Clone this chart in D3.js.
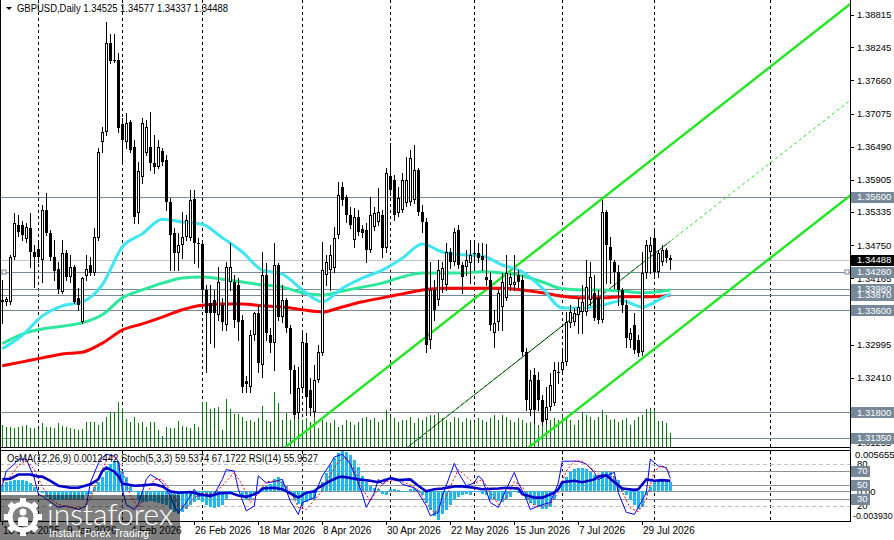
<!DOCTYPE html>
<html lang="en">
<meta charset="utf-8">
<style>
  body{margin:0;background:#fff;}
  svg{display:block;font-family:"Liberation Sans",Arial,sans-serif;}
</style>
<body>
<svg width="894" height="540"></svg>
<script src="https://d3js.org/d3.v7.min.js"></script>
<script>
// GBPUSD daily bars, index 0 = 18 Dec 2025
let openP = [
  1.3375,1.3375,1.3375,1.3454,1.3511,1.3511,1.3486,1.3505,1.3463,1.3468,
  1.3449,1.3537,1.3496,1.3454,1.3433,1.3392,1.3461,1.3419,1.3436,1.3382,
  1.3339,1.3420,1.3440,1.3426,1.3488,1.3657,1.3675,1.3832,1.3802,1.3802,
  1.3689,1.3657,1.3692,1.3648,1.3532,1.3595,1.3638,1.3648,1.3620,1.3613,
  1.3641,1.3625,1.3551,1.3496,1.3461,1.3475,1.3489,1.3488,1.3556,1.3479,
  1.3477,1.3396,1.3373,1.3378,1.3352,1.3369,1.3334,1.3410,1.3410,1.3405,
  1.3343,1.3235,1.3224,1.3316,1.3355,1.3263,1.3422,1.3316,1.3302,1.3440,
  1.3348,1.3378,1.3329,1.3254,1.3178,1.3223,1.3302,1.3219,1.3180,1.3237,
  1.3284,1.3422,1.3431,1.3435,1.3493,1.3578,1.3560,1.3528,1.3484,1.3525,
  1.3503,1.3502,1.3466,1.3507,1.3516,1.3528,1.3470,1.3597,1.3590,1.3532,
  1.3537,1.3549,1.3551,1.3555,1.3608,1.3533,1.3516,1.3307,1.3396,1.3378,
  1.3413,1.3405,1.3463,1.3445,1.3502,1.3440,1.3436,1.3443,1.3461,1.3461,
  1.3456,1.3419,1.3413,1.3320,1.3339,1.3366,1.3382,1.3405,1.3405,1.3422,
  1.3413,1.3286,1.3184,1.3246,1.3237,1.3201,1.3166,1.3189,1.3196,1.3251,
  1.3254,1.3268,1.3337,1.3339,1.3352,1.3357,1.3357,1.3378,1.3390,1.3382,
  1.3343,1.3533,1.3472,1.3445,1.3427,1.3396,1.3369,1.3307,1.3334,1.3307,
  1.3286,1.3426,1.3463,1.3488,1.3427,1.3445,1.3466,1.34525]
let highP = [
  1.3413,1.3383,1.3458,1.3532,1.3528,1.3518,1.3514,1.3532,1.3475,1.3484,
  1.3546,1.3567,1.3502,1.3484,1.3445,1.3484,1.3466,1.3458,1.3440,1.3399,
  1.3419,1.3458,1.3454,1.3505,1.3647,1.3684,1.3869,1.3848,1.3848,1.3814,
  1.3700,1.3708,1.3696,1.3661,1.3622,1.3700,1.3696,1.3710,1.3670,1.3661,
  1.3647,1.3634,1.3558,1.3505,1.3496,1.3533,1.3528,1.3572,1.3572,1.3488,
  1.3484,1.3405,1.3405,1.3396,1.3436,1.3382,1.3445,1.3479,1.3422,1.3417,
  1.3352,1.3244,1.3325,1.3357,1.3369,1.3463,1.3443,1.3329,1.3479,1.3443,
  1.3405,1.3382,1.3334,1.3263,1.3260,1.3320,1.3320,1.3240,1.3263,1.3299,
  1.3480,1.3458,1.3475,1.3507,1.3587,1.3587,1.3564,1.3542,1.3541,1.3537,
  1.3511,1.3514,1.3560,1.3542,1.3576,1.3537,1.3611,1.3655,1.3599,1.3578,
  1.3602,1.3631,1.3643,1.3652,1.3611,1.3546,1.3523,1.3445,1.3413,1.3449,
  1.3445,1.3479,1.3470,1.3505,1.3511,1.3445,1.3466,1.3484,1.3479,1.3479,
  1.3479,1.3477,1.3427,1.3360,1.3396,1.3426,1.3458,1.3426,1.3458,1.3431,
  1.3422,1.3293,1.3254,1.3258,1.3251,1.3210,1.3224,1.3249,1.3268,1.3268,
  1.3293,1.3357,1.3369,1.3364,1.3382,1.3405,1.3449,1.3445,1.3422,1.3396,
  1.3555,1.3537,1.3489,1.3449,1.3440,1.3399,1.3378,1.3329,1.3355,1.3316,
  1.3463,1.3484,1.3489,1.3505,1.3466,1.3475,1.3470,1.34577]
let lowP = [
  1.3337,1.3369,1.3371,1.3450,1.3491,1.3484,1.3480,1.3436,1.3401,1.3445,
  1.3410,1.3493,1.3449,1.3413,1.3390,1.3390,1.3413,1.3410,1.3373,1.3360,
  1.3337,1.3413,1.3422,1.3422,1.3484,1.3639,1.3670,1.3797,1.3798,1.3675,
  1.3620,1.3647,1.3639,1.3514,1.3514,1.3585,1.3634,1.3608,1.3602,1.3611,
  1.3617,1.3537,1.3431,1.3431,1.3431,1.3452,1.3484,1.3484,1.3443,1.3436,
  1.3378,1.3251,1.3302,1.3295,1.3343,1.3325,1.3325,1.3396,1.3330,1.3307,
  1.3216,1.3216,1.3216,1.3307,1.3251,1.3242,1.3307,1.3286,1.3254,1.3343,
  1.3339,1.3321,1.3214,1.3170,1.3170,1.3216,1.3175,1.3175,1.3173,1.3233,
  1.3281,1.3405,1.3396,1.3427,1.3488,1.3546,1.3516,1.3505,1.3472,1.3493,
  1.3489,1.3445,1.3463,1.3502,1.3511,1.3454,1.3463,1.3564,1.3519,1.3526,
  1.3533,1.3544,1.3546,1.3549,1.3528,1.3498,1.3286,1.3293,1.3343,1.3369,
  1.3392,1.3396,1.3435,1.3440,1.3435,1.3390,1.3422,1.3408,1.3431,1.3445,
  1.3431,1.3405,1.3325,1.3295,1.3325,1.3325,1.3378,1.3396,1.3396,1.3401,
  1.3281,1.3184,1.3175,1.3161,1.3184,1.3157,1.3161,1.3184,1.3193,1.3231,
  1.3249,1.3263,1.3330,1.3334,1.3320,1.3320,1.3352,1.3369,1.3343,1.3337,
  1.3340,1.3408,1.3408,1.3399,1.3369,1.3357,1.3295,1.3295,1.3284,1.3279,
  1.3281,1.3417,1.3426,1.3422,1.3419,1.3440,1.3445,1.34337]
let closeP = [
  1.3378,1.3380,1.3454,1.3514,1.3498,1.3493,1.3507,1.3463,1.3454,1.3454,
  1.3537,1.3496,1.3454,1.3429,1.3397,1.3461,1.3419,1.3436,1.3375,1.3369,
  1.3417,1.3433,1.3426,1.3489,1.3639,1.3675,1.3832,1.3800,1.3800,1.3682,
  1.3661,1.3691,1.3643,1.3525,1.3606,1.3691,1.3684,1.3620,1.3613,1.3648,
  1.3622,1.3551,1.3493,1.3461,1.3475,1.3489,1.3519,1.3555,1.3479,1.3477,
  1.3396,1.3355,1.3355,1.3355,1.3410,1.3339,1.3436,1.3436,1.3343,1.3339,
  1.3224,1.3230,1.3316,1.3355,1.3267,1.3422,1.3320,1.3302,1.3440,1.3348,
  1.3378,1.3329,1.3254,1.3175,1.3223,1.3304,1.3207,1.3187,1.3237,1.3286,
  1.3431,1.3445,1.3458,1.3488,1.3564,1.3555,1.3528,1.3511,1.3525,1.3498,
  1.3496,1.3466,1.3528,1.3532,1.3533,1.3470,1.3602,1.3572,1.3528,1.3558,
  1.3590,1.3590,1.3629,1.3608,1.3533,1.3516,1.3299,1.3396,1.3360,1.3431,
  1.3435,1.3463,1.3445,1.3498,1.3440,1.3419,1.3449,1.3458,1.3459,1.3452,
  1.3449,1.3413,1.3334,1.3337,1.3390,1.3410,1.3426,1.3419,1.3410,1.3410,
  1.3286,1.3201,1.3237,1.3184,1.3201,1.3162,1.3189,1.3228,1.3254,1.3249,
  1.3268,1.3339,1.3357,1.3355,1.3366,1.3375,1.3401,1.3419,1.3346,1.3343,
  1.3533,1.3475,1.3449,1.3427,1.3396,1.3369,1.3311,1.3320,1.3290,1.3284,
  1.3426,1.3475,1.3475,1.3427,1.3461,1.3466,1.3452,1.34488]
// tick volume (hundreds)
let volume = [
  88,80,80,76,80,84,88,76,76,72, 96,80,80,76,96,84,80,76,72,68,
  72,100,100,100,88,100,120,140,140,180, 156,112,100,120,96,100,80,100,100,68,
  44,80,76,76,104,84,80,76,92,80, 180,180,152,156,160,68,192,152,132,132,
  120,104,108,100,116,164,108,100,220,176, 108,136,108,120,116,108,116,100,128,76,
  108,100,96,108,80,88,108,100,88,100, 116,120,108,116,100,108,148,120,116,100,
  108,108,120,96,116,108,120,128,128,136, 116,108,100,120,116,100,116,108,100,116,
  108,100,116,128,108,128,120,108,100,116, 108,96,100,108,88,108,96,108,116,108,
  128,120,108,88,108,140,128,120,108,120, 148,128,108,112,100,108,116,88,108,120,
  128,152,156,148,104,104,96,56]

// moving averages sampled by bar
let maBars = [0,5,10,15,20,25,30,35,40,45,50,55,60,65,70,75,80,85,90,95,100,105,110,115,120,125,130,135,140,145,150,155,160,165,167]
let maFast = [1.3292,1.3316,1.3350,1.3368,1.3375,1.3405,1.3472,1.3495,1.3521,1.3516,1.3512,1.3488,1.3463,1.3431,1.3424,1.3396,1.3375,1.3399,1.3417,1.3431,1.3452,1.3477,1.3463,1.3458,1.3456,1.3440,1.3428,1.3399,1.3364,1.3364,1.3369,1.3377,1.3366,1.3382,1.3389]
let maMid = [1.3301,1.3318,1.3327,1.3332,1.3338,1.3352,1.3382,1.3396,1.3408,1.3417,1.3419,1.3415,1.3410,1.3405,1.3401,1.3391,1.3387,1.3394,1.3401,1.3408,1.3419,1.3426,1.3426,1.3426,1.3428,1.3426,1.3421,1.3410,1.3398,1.3396,1.3396,1.3394,1.3391,1.3394,1.3396]
let maSlow = [1.3262,1.3269,1.3276,1.3283,1.3286,1.3302,1.3325,1.3336,1.3348,1.3361,1.3369,1.3371,1.3371,1.3368,1.3366,1.3361,1.3357,1.3366,1.3375,1.3382,1.3389,1.3396,1.3399,1.3399,1.3399,1.3399,1.3396,1.3391,1.3385,1.3382,1.3382,1.3384,1.3384,1.3385,1.3387]

// channel: [bar, price]
let chanUpper = [[70, 1.3114], [212, 1.3901]]
let chanLower = [[130, 1.3109], [212, 1.3563]]
let chanMid = [[100, 1.3111], [167, 1.3482], [212, 1.3731]]

let levels = [1.35600, 1.34280, 1.33980, 1.33870, 1.33600, 1.31800, 1.31350]
let bidPrice = 1.34488
let priceTicks = [1.38815, 1.38245, 1.37660, 1.37075, 1.36490, 1.35905, 1.35335, 1.34750, 1.34165, 1.32995, 1.32410, 1.31255]

let sepBars = [9, 30, 50, 75, 97, 118, 140, 163, 192]
let dateBars = [0, 16, 32, 48, 64, 80, 96, 112, 128, 144, 160]
let dateLabels = ['18 Dec 2025', '9 Jan 2026', '4 Feb 2026', '26 Feb 2026', '18 Mar 2026', '8 Apr 2026', '30 Apr 2026', '22 May 2026', '15 Jun 2026', '7 Jul 2026', '29 Jul 2026']

// OsMA(12,26,9)
let osma = [
  0.00078,0.00123,0.00147,0.00155,0.00155,0.00155,0.00147,0.00114,0.00055,-0.00014,
  -0.00027,-0.00082,-0.00105,-0.00127,-0.00127,-0.00119,-0.00105,-0.00114,-0.00105,-0.00114,
  -0.00105,-0.00059,-0.00037,0.00055,0.00123,0.00192,0.00284,0.00374,0.00421,0.00397,
  0.00284,0.00192,0.00100,-0.00014,-0.00127,-0.00151,-0.00151,-0.00141,-0.00151,-0.00160,
  -0.00174,-0.00196,-0.00242,-0.00288,-0.00311,-0.00288,-0.00242,-0.00196,-0.00151,-0.00127,
  -0.00151,-0.00196,-0.00219,-0.00233,-0.00219,-0.00196,-0.00105,-0.00037,0.00010,-0.00014,
  -0.00082,-0.00127,-0.00105,-0.00037,0.00010,0.00041,0.00078,0.00100,0.00169,0.00192,
  0.00147,0.00078,-0.00037,-0.00105,-0.00174,-0.00196,-0.00151,-0.00127,-0.00105,-0.00014,
  0.00123,0.00247,0.00356,0.00452,0.00521,0.005655,0.00534,0.00493,0.00425,0.00329,
  0.00206,0.00123,0.00069,0.00041,0.00027,-0.00041,-0.00055,0.00027,0.00027,0.00014,
  0.00003,-0.00014,0.00027,0.00041,0.00014,-0.00055,-0.00164,-0.00260,-0.00345,-0.00393,
  -0.00315,-0.00260,-0.00192,-0.00123,-0.00082,-0.00055,-0.00041,-0.00055,-0.00014,-0.00014,
  -0.00041,-0.00055,-0.00110,-0.00110,-0.00137,-0.00151,-0.00110,-0.00082,-0.00014,-0.00027,
  -0.00055,-0.00110,-0.00164,-0.00192,-0.00219,-0.00247,-0.00247,-0.00219,-0.00123,-0.00014,
  0.00123,0.00192,0.00260,0.00301,0.00315,0.00315,0.00301,0.00260,0.00219,0.00164,
  0.00260,0.00274,0.00260,0.00192,0.00151,0.00055,-0.00055,-0.00123,-0.00192,-0.00247,
  -0.00219,-0.00055,0.00055,0.00123,0.00151,0.00151,0.00151,0.00124]

// Stoch(5,3,3) main / signal, RSI(14) sampled by bar
let stochKBars = [0,1,3,4,6,8,9,10,14,16,19,21,22,24,25,26,28,29,30,31,33,34,36,37,39,40,42,43,44,46,48,49,53,55,56,58,59,61,63,64,66,68,70,72,74,75,78,79,80,82,83,85,87,89,90,91,93,94,95,97,99,100,103,104,106,107,109,110,112,113,114,116,118,119,120,122,124,126,128,129,131,132,134,135,137,139,140,142,144,146,148,149,151,153,154,156,158,159,161,162,163,164,166,167]
let stochK = [49,70,80,87,87,60,37,34,18,20,15,20,53,81,89,94,91,84,44,22,15,22,58,65,58,53,34,20,10,25,44,34,37,58,72,70,44,13,20,63,53,55,58,27,8,25,32,49,63,80,90,94,80,53,37,18,39,58,51,61,58,51,46,39,20,6,11,34,65,81,68,49,53,63,58,25,18,44,68,53,30,15,20,22,25,53,84,84,84,80,68,58,63,68,39,11,8,18,39,87,82,77,75,59.54]
let stochDBars = [0,2,4,6,8,10,12,14,17,20,22,24,26,28,30,32,34,36,38,40,42,44,46,48,50,53,56,58,60,62,64,66,69,72,74,76,78,80,82,84,86,88,90,92,94,96,99,102,104,106,108,110,112,114,116,118,120,122,124,126,128,130,132,134,137,139,141,143,145,147,149,151,153,155,157,159,161,163,165,167]
let stochD = [55,62,78,84,72,48,30,22,18,17,30,60,85,91,70,35,18,35,58,58,42,22,17,32,38,37,55,68,50,25,38,55,56,42,18,15,28,42,65,83,90,72,45,27,45,55,57,50,43,25,10,20,47,72,62,52,58,40,22,32,55,48,25,18,22,40,70,84,84,75,66,62,62,40,17,12,30,70,78,67.17]
let rsiBars = [0,2,4,7,9,10,12,14,17,19,22,24,25,26,28,29,30,33,35,38,40,42,44,47,49,52,54,57,59,61,64,65,68,70,73,74,76,78,79,82,84,85,89,92,94,97,99,102,104,106,108,110,113,115,118,120,124,126,129,130,133,135,138,139,140,143,145,148,149,151,153,155,158,159,161,163,165,167]
let rsi = [58,59,65,65,62,62,56,49,46,46,51,58,70,75,69,63,52,49,49.5,51,48,41,39,40,37,34,38,39,35,33,39,45,46,44,35,32,39,41,46,56,61,62,58,56,54,59.5,57,58,49,41,44,45,48,48,46,44,45,46,45,37,32,32,39,44,54,56,54,58,62,64,54,45,43,44,58,56,57,55.95]

let svg = d3.select('svg')
let plotR = 850

let x = d3.scaleLinear().domain([0, 212]).range([2.3, 850.3])
let y = d3.scaleLinear().domain([1.31204, 1.39080]).range([446, 0])
let yVol = d3.scaleLinear().domain([0, 1800]).range([447, 0])
let yOs = d3.scaleLinear().domain([-0.00393, 0.005655]).range([520, 450])
let yPct = d3.scaleLinear().domain([0, 100]).range([520, 450])
let px = i => Math.round(x(i))
let fmt = d3.format('.5f')

let defs = svg.append('defs')
defs.append('clipPath').attr('id', 'clipMain').append('rect').attr('x', 1).attr('y', 0).attr('width', plotR - 1).attr('height', 447)
defs.append('clipPath').attr('id', 'clipSub').append('rect').attr('x', 1).attr('y', 451).attr('width', plotR - 1).attr('height', 70)

let gMain = svg.append('g').attr('clip-path', 'url(#clipMain)')
let gSub = svg.append('g').attr('clip-path', 'url(#clipSub)')

// period separators
gMain.append('g').selectAll('line').data(sepBars).enter().append('line')
  .attr('x1', d => px(d) + 0.5).attr('x2', d => px(d) + 0.5)
  .attr('y1', 0).attr('y2', 447)
  .attr('stroke', '#000').attr('stroke-dasharray', '3,3')
gSub.append('g').selectAll('line').data(sepBars).enter().append('line')
  .attr('x1', d => px(d) + 0.5).attr('x2', d => px(d) + 0.5)
  .attr('y1', 451).attr('y2', 521)
  .attr('stroke', '#000').attr('stroke-dasharray', '3,3')

// horizontal levels
gMain.append('line')
  .attr('x1', 0).attr('x2', plotR)
  .attr('y1', Math.round(y(bidPrice)) + 0.5).attr('y2', Math.round(y(bidPrice)) + 0.5)
  .attr('stroke', '#c0c0c0')
gMain.append('g').selectAll('line').data(levels).enter().append('line')
  .attr('x1', 0).attr('x2', plotR)
  .attr('y1', d => Math.round(y(d)) + 0.5).attr('y2', d => Math.round(y(d)) + 0.5)
  .attr('stroke', '#778899')
gMain.append('g').selectAll('rect').data([2, 845]).enter().append('rect')
  .attr('x', d => d).attr('y', Math.round(y(levels[1])) - 2)
  .attr('width', 4).attr('height', 4)
  .attr('fill', '#fff').attr('stroke', '#778899')

// volumes
gMain.append('g').attr('shape-rendering', 'crispEdges')
  .selectAll('line').data(volume).enter().append('line')
  .attr('x1', (d, i) => px(i) + 0.5).attr('x2', (d, i) => px(i) + 0.5)
  .attr('y1', yVol(0)).attr('y2', d => yVol(d))
  .attr('stroke', '#008000')

// channel
let segLine = d3.line().x(d => x(d[0])).y(d => y(d[1]))
gMain.append('path').attr('d', segLine(chanUpper)).attr('fill', 'none').attr('stroke', '#1ee61e').attr('stroke-width', 2.4)
gMain.append('path').attr('d', segLine(chanLower)).attr('fill', 'none').attr('stroke', '#1ee61e').attr('stroke-width', 2.4)
gMain.append('path').attr('d', segLine(chanMid.slice(0, 2))).attr('fill', 'none').attr('stroke', '#000').attr('stroke-width', 1)
gMain.append('path').attr('d', segLine(chanMid)).attr('fill', 'none').attr('stroke', '#1ee61e').attr('stroke-width', 1).attr('stroke-dasharray', '3,3')

// moving averages
let maLine = vals => d3.line()
  .x((d, i) => x(maBars[i]))
  .y(d => y(d))
  .curve(d3.curveMonotoneX)(vals)
gMain.append('path').attr('d', maLine(maSlow)).attr('fill', 'none').attr('stroke', '#ff0000').attr('stroke-width', 3)
gMain.append('path').attr('d', maLine(maMid)).attr('fill', 'none').attr('stroke', '#2de89c').attr('stroke-width', 3)
gMain.append('path').attr('d', maLine(maFast)).attr('fill', 'none').attr('stroke', '#3ee6f2').attr('stroke-width', 3)

// candles
let candle = gMain.append('g').attr('shape-rendering', 'crispEdges')
  .selectAll('g').data(d3.range(closeP.length)).enter().append('g')
candle.append('line')
  .attr('x1', i => px(i) + 0.5).attr('x2', i => px(i) + 0.5)
  .attr('y1', i => Math.round(y(highP[i]))).attr('y2', i => Math.round(y(lowP[i])) + 1)
  .attr('stroke', '#000')
candle.append('rect')
  .each(function (i) {
    let t = Math.round(y(Math.max(openP[i], closeP[i])))
    let b = Math.round(y(Math.min(openP[i], closeP[i])))
    let bull = closeP[i] > openP[i] && b - t > 1
    let r = d3.select(this)
    if (bull) {
      r.attr('x', px(i) - 0.5).attr('y', t + 0.5).attr('width', 2).attr('height', b - t - 1)
        .attr('fill', '#fff').attr('stroke', '#000')
    } else {
      r.attr('x', px(i) - 1).attr('y', t).attr('width', 3).attr('height', Math.max(b - t, 1))
        .attr('fill', '#000')
    }
  })

// header
svg.append('path').attr('d', 'M6,7L12,7L9,10Z').attr('fill', '#000')
svg.append('text').attr('x', 17).attr('y', 12)
  .attr('font-size', 10).attr('textLength', 211).attr('lengthAdjust', 'spacingAndGlyphs')
  .text('GBPUSD,Daily  1.34525 1.34577 1.34337 1.34488')

// indicator window
gSub.append('g').selectAll('line').data([80, 20]).enter().append('line')
  .attr('x1', 0).attr('x2', plotR)
  .attr('y1', d => Math.round(yPct(d)) + 0.5).attr('y2', d => Math.round(yPct(d)) + 0.5)
  .attr('stroke', '#c0c0c0').attr('stroke-dasharray', '4,3')
gSub.append('g').selectAll('line').data([70, 50, 30]).enter().append('line')
  .attr('x1', 0).attr('x2', plotR)
  .attr('y1', d => Math.round(yPct(d)) + 0.5).attr('y2', d => Math.round(yPct(d)) + 0.5)
  .attr('stroke', '#8a939c')
gSub.append('line')
  .attr('x1', 0).attr('x2', plotR)
  .attr('y1', Math.round(yOs(0)) + 0.5).attr('y2', Math.round(yOs(0)) + 0.5)
  .attr('stroke', '#8a939c')

gSub.append('g').attr('shape-rendering', 'crispEdges')
  .selectAll('rect').data(osma).enter().append('rect')
  .attr('x', (d, i) => px(i) - 1).attr('width', 3)
  .attr('y', d => Math.round(Math.min(yOs(d), yOs(0))))
  .attr('height', d => Math.max(1, Math.round(Math.abs(yOs(d) - yOs(0)))))
  .attr('fill', '#1fb9ef')

let pctLine = bars => d3.line().x((d, i) => x(bars[i])).y(d => yPct(d))
gSub.append('path').attr('d', pctLine(stochKBars)(stochK)).attr('fill', 'none').attr('stroke', '#0000ff').attr('stroke-width', 1)
gSub.append('path').attr('d', pctLine(stochDBars)(stochD)).attr('fill', 'none').attr('stroke', '#ff0000').attr('stroke-width', 1).attr('stroke-dasharray', '2,2')
gSub.append('path').attr('d', pctLine(rsiBars)(rsi)).attr('fill', 'none').attr('stroke', '#0000cd').attr('stroke-width', 2.6)

svg.append('text').attr('x', 7).attr('y', 462)
  .attr('font-size', 10).attr('textLength', 311).attr('lengthAdjust', 'spacingAndGlyphs')
  .text('OsMA(12,26,9) 0.0012442  Stoch(5,3,3) 59.5374 67.1722  RSI(14) 55.9527')

// frame
let frame = svg.append('g').attr('stroke', '#000').attr('shape-rendering', 'crispEdges')
frame.append('line').attr('x1', 0.5).attr('x2', 0.5).attr('y1', 0).attr('y2', 521)
frame.append('line').attr('x1', plotR + 0.5).attr('x2', plotR + 0.5).attr('y1', 0).attr('y2', 522)
frame.append('line').attr('x1', 0).attr('x2', plotR).attr('y1', 447.5).attr('y2', 447.5)
frame.append('line').attr('x1', 0).attr('x2', plotR).attr('y1', 450.5).attr('y2', 450.5)
frame.append('line').attr('x1', 0).attr('x2', plotR + 1).attr('y1', 521.5).attr('y2', 521.5)

// price axis
let axisG = svg.append('g')
axisG.selectAll('line').data(priceTicks).enter().append('line')
  .attr('x1', plotR).attr('x2', plotR + 4)
  .attr('y1', d => Math.round(y(d)) + 0.5).attr('y2', d => Math.round(y(d)) + 0.5)
  .attr('stroke', '#000')
axisG.selectAll('text').data(priceTicks).enter().append('text')
  .attr('x', 857).attr('y', d => y(d)).attr('dy', '0.35em')
  .attr('font-size', 9.5)
  .text(d => fmt(d))

let boxes = svg.append('g')
let boxData = levels.map(d => ({ v: d, bg: '#778899' })).concat([{ v: bidPrice, bg: '#000' }])
boxes.selectAll('rect').data(boxData).enter().append('rect')
  .attr('x', plotR + 1).attr('y', d => Math.round(y(d.v)) - 5)
  .attr('width', 44).attr('height', 11)
  .attr('fill', d => d.bg)
boxes.selectAll('text').data(boxData).enter().append('text')
  .attr('x', 857).attr('y', d => y(d.v)).attr('dy', '0.35em')
  .attr('font-size', 9.5).attr('fill', '#fff')
  .text(d => fmt(d.v))

// indicator axis
let subAxis = svg.append('g').attr('font-size', 9.5)
subAxis.append('text').attr('x', 855).attr('y', 451).attr('dominant-baseline', 'hanging').text('0.005655')
subAxis.append('text').attr('x', 853).attr('y', 519).attr('font-size', 8.8).text('-0.003930')
subAxis.append('text').attr('x', 857).attr('y', yOs(0)).attr('dy', '0.35em').text('0.00')
subAxis.selectAll('.plain').data([80, 20]).enter().append('text')
  .attr('x', 857).attr('y', d => yPct(d)).attr('dy', '0.35em').text(d => d)
subAxis.selectAll('rect').data([70, 50, 30]).enter().append('rect')
  .attr('x', plotR + 1).attr('y', d => Math.round(yPct(d)) - 5)
  .attr('width', 19).attr('height', 11).attr('fill', '#778899')
subAxis.selectAll('.boxed').data([70, 50, 30]).enter().append('text')
  .attr('x', 857).attr('y', d => yPct(d)).attr('dy', '0.35em')
  .attr('fill', '#fff').text(d => d)

// time axis
let timeG = svg.append('g')
timeG.selectAll('line').data(dateBars).enter().append('line')
  .attr('x1', d => px(d) + 0.5).attr('x2', d => px(d) + 0.5)
  .attr('y1', 522).attr('y2', 525).attr('stroke', '#000')
timeG.selectAll('text').data(dateBars).enter().append('text')
  .attr('x', d => px(d) + 1).attr('y', 534)
  .attr('font-size', 10)
  .text((d, i) => dateLabels[i])

// watermark
let logo = svg.append('g')
logo.append('rect').attr('x', 0).attr('y', 495).attr('width', 180).attr('height', 45)
  .attr('fill', '#000').attr('opacity', 0.5)
let gear = logo.append('g').attr('transform', 'translate(23,517)')
gear.selectAll('rect').data(d3.range(8)).enter().append('rect')
  .attr('x', -3).attr('y', -19).attr('width', 6).attr('height', 6)
  .attr('fill', '#fff').attr('transform', d => `rotate(${d * 45})`)
gear.append('circle').attr('r', 13).attr('fill', 'none').attr('stroke', '#fff').attr('stroke-width', 5)
gear.append('circle').attr('cy', -5).attr('r', 3.5).attr('fill', '#fff')
gear.append('path').attr('d', 'M-5,9L-5,1Q0,-2,5,1L5,9Z').attr('fill', '#fff')
logo.append('text').attr('x', 47).attr('y', 525)
  .attr('font-size', 29).attr('font-family', 'Lato, "Liberation Sans", sans-serif').attr('font-weight', 300)
  .attr('fill', '#fff').attr('textLength', 126).attr('lengthAdjust', 'spacingAndGlyphs')
  .text('instaforex')
logo.append('text').attr('x', 49).attr('y', 537)
  .attr('font-size', 11).attr('fill', '#fff').attr('textLength', 100).attr('lengthAdjust', 'spacingAndGlyphs')
  .text('Instant Forex Trading')
</script>
</body>
</html>
